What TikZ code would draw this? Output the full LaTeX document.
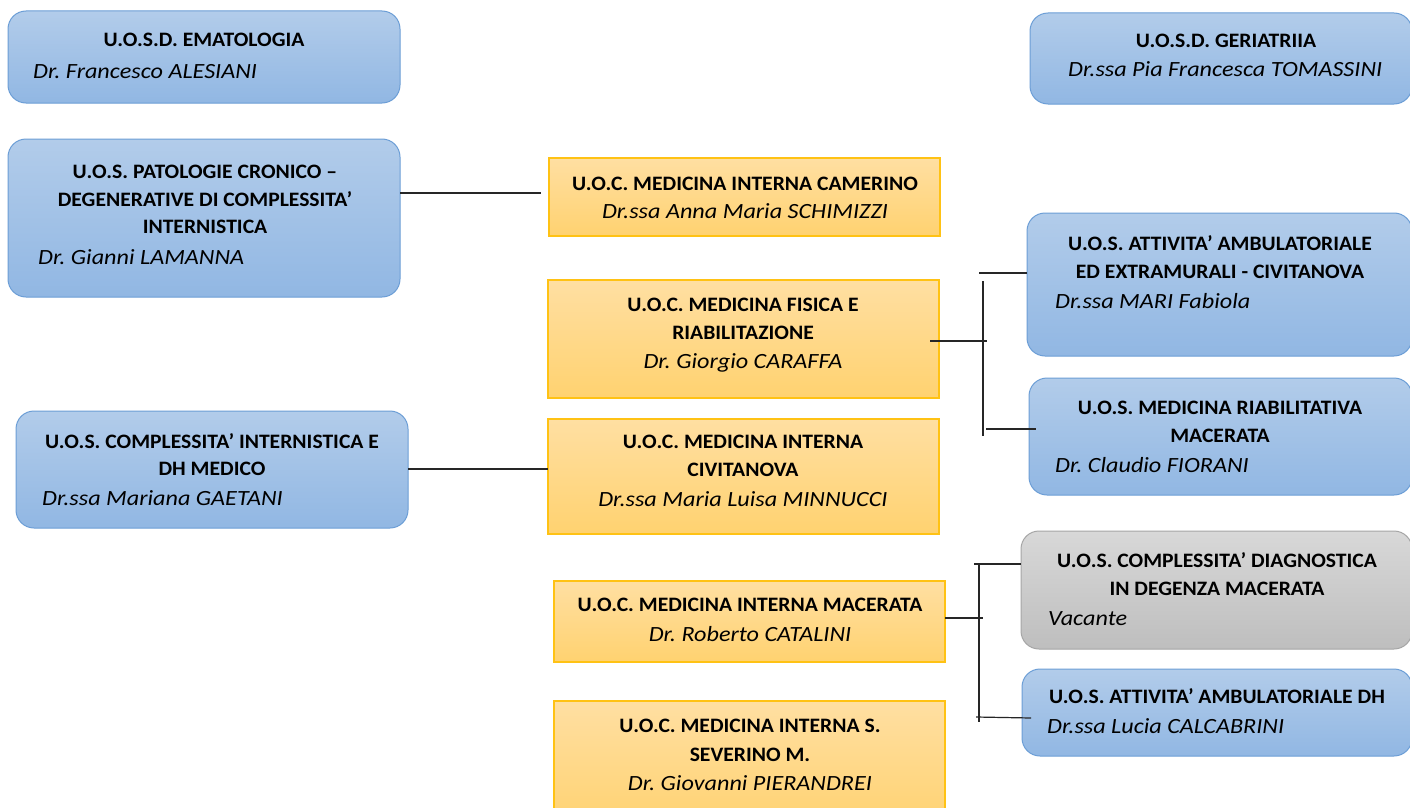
\documentclass[tikz,border=0pt]{standalone}
\usepackage{fontspec}
\setmainfont{Carlito}
\newfontfamily\tfam[FakeStretch=1.055]{Carlito}
\newfontfamily\nfam[FakeStretch=1.115]{Carlito}
\frenchspacing
\definecolor{bluetop}{RGB}{178,204,234}
\definecolor{bluebot}{RGB}{145,183,227}
\definecolor{blueline}{RGB}{108,158,214}
\definecolor{yeltop}{RGB}{255,223,162}
\definecolor{yelbot}{RGB}{255,210,112}
\definecolor{yelline}{RGB}{255,194,20}
\definecolor{graytop}{RGB}{216,216,216}
\definecolor{graybot}{RGB}{190,190,190}
\definecolor{grayline}{RGB}{166,166,166}
\tikzset{
  bluebox/.style={draw=blueline, line width=1pt, rounded corners=18pt, top color=bluetop, bottom color=bluebot, inner sep=0pt, outer sep=0pt},
  yelbox/.style={draw=yelline, line width=1.2pt, top color=yeltop, bottom color=yelbot, inner sep=0pt, outer sep=0pt},
  graybox/.style={draw=grayline, line width=1pt, rounded corners=18pt, top color=graytop, bottom color=graybot, inner sep=0pt, outer sep=0pt},
  tt/.style={font=\tfam\bfseries\fontsize{20.5}{24}\selectfont, inner sep=0pt, anchor=base},
  nm/.style={font=\nfam\itshape\fontsize{21.7}{24}\selectfont, inner sep=0pt, anchor=base},
  nml/.style={nm, anchor=base west},
  conn/.style={draw=black!85, line width=1.2pt}
}
\begin{document}
\begin{tikzpicture}[x=1pt,y=-1pt]
\useasboundingbox (0,0) rectangle (1410,808);
\clip (0,0) rectangle (1410,808);
\fill[white] (0,0) rectangle (1410,808);

% ---- boxes ----
\node[bluebox, minimum width=392pt, minimum height=92pt] (ema) at (204,57) {};
\node[bluebox, minimum width=382pt, minimum height=91pt] (ger) at (1221,58.5) {};
\node[bluebox, minimum width=392pt, minimum height=158pt] (pat) at (204,218) {};
\node[yelbox, minimum width=391pt, minimum height=78pt] (cam) at (744.5,197) {};
\node[yelbox, minimum width=391pt, minimum height=118pt] (fis) at (743.5,339) {};
\node[yelbox, minimum width=391pt, minimum height=115pt] (civ) at (743.5,476.5) {};
\node[yelbox, minimum width=391pt, minimum height=81pt] (mac) at (749.5,621.5) {};
\node[yelbox, minimum width=391pt, minimum height=129pt] (sev) at (749.5,765.5) {};
\node[bluebox, minimum width=392pt, minimum height=117pt] (dhm) at (212,469.5) {};
\node[bluebox, minimum width=385pt, minimum height=143pt] (amb) at (1219.5,284.5) {};
\node[bluebox, minimum width=383pt, minimum height=117pt] (ria) at (1220.5,436.5) {};
\node[graybox, minimum width=391pt, minimum height=118pt] (dia) at (1216.5,590) {};
\node[bluebox, minimum width=390pt, minimum height=87pt] (adh) at (1217,712.5) {};

% ---- texts ----
\node[tt] (ema-t) at (204,47) {U.O.S.D. EMATOLOGIA};
\node[nml] (ema-n) at (33,78) {Dr. Francesco ALESIANI};

\node[tt] (ger-t) at (1226,48) {U.O.S.D. GERIATRIIA};
\node[nml] (ger-n) at (1068,77) {Dr.ssa Pia Francesca TOMASSINI};

\node[tt] (pat-t1) at (205,178) {U.O.S. PATOLOGIE CRONICO –};
\node[tt] (pat-t2) at (205,206) {DEGENERATIVE DI COMPLESSITA’};
\node[tt] (pat-t3) at (205,233) {INTERNISTICA};
\node[nml] (pat-n) at (38,264) {Dr. Gianni LAMANNA};

\node[tt] (cam-t) at (745,190) {U.O.C. MEDICINA INTERNA CAMERINO};
\node[nm] (cam-n) at (745,218) {Dr.ssa Anna Maria SCHIMIZZI};

\node[tt] (fis-t1) at (743,311) {U.O.C. MEDICINA FISICA E};
\node[tt] (fis-t2) at (743,339) {RIABILITAZIONE};
\node[nm] (fis-n) at (743,368) {Dr. Giorgio CARAFFA};

\node[tt] (civ-t1) at (743,448) {U.O.C. MEDICINA INTERNA};
\node[tt] (civ-t2) at (743,476) {CIVITANOVA};
\node[nm] (civ-n) at (743,506) {Dr.ssa Maria Luisa MINNUCCI};

\node[tt] (mac-t) at (750,611) {U.O.C. MEDICINA INTERNA MACERATA};
\node[nm] (mac-n) at (750,641) {Dr. Roberto CATALINI};

\node[tt] (sev-t1) at (750,732) {U.O.C. MEDICINA INTERNA S.};
\node[tt] (sev-t2) at (750,761) {SEVERINO M.};
\node[nm] (sev-n) at (750,790) {Dr. Giovanni PIERANDREI};

\node[tt] (dhm-t1) at (212,448) {U.O.S. COMPLESSITA’ INTERNISTICA E};
\node[tt] (dhm-t2) at (212,475) {DH MEDICO};
\node[nml] (dhm-n) at (42,505) {Dr.ssa Mariana GAETANI};

\node[tt] (amb-t1) at (1220,250) {U.O.S. ATTIVITA’ AMBULATORIALE};
\node[tt] (amb-t2) at (1220,278) {ED EXTRAMURALI - CIVITANOVA};
\node[nml] (amb-n) at (1055,308) {Dr.ssa MARI Fabiola};

\node[tt] (ria-t1) at (1220,414) {U.O.S. MEDICINA RIABILITATIVA};
\node[tt] (ria-t2) at (1220,442) {MACERATA};
\node[nml] (ria-n) at (1055,472) {Dr. Claudio FIORANI};

\node[tt] (dia-t1) at (1217,567) {U.O.S. COMPLESSITA’ DIAGNOSTICA};
\node[tt] (dia-t2) at (1217,595) {IN DEGENZA MACERATA};
\node[nml] (dia-n) at (1048,625) {Vacante};

\node[tt] (adh-t) at (1217,703) {U.O.S. ATTIVITA’ AMBULATORIALE DH};
\node[nml] (adh-n) at (1047,733) {Dr.ssa Lucia CALCABRINI};

% ---- connectors ----
\coordinate (c1) at (541,193);
\draw[conn] (pat.east |- c1) -- (c1);

\coordinate (c2) at (548,469);
\draw[conn] (dhm.east |- c2) -- (c2);

% bracket for FISICA
\coordinate (f1) at (987,341);
\coordinate (fvt) at (983,281);
\coordinate (fvb) at (983,436);
\coordinate (fa) at (979,273);
\coordinate (fb) at (986,429);
\coordinate (fbe) at (1036,429);
\draw[conn] (fis.east |- f1) ++(-9,0) -- (f1);
\draw[conn] (fvt) -- (fvb);
\draw[conn] (fa) -- (amb.west |- fa);
\draw[conn] (fb) -- (fbe);

% bracket for MACERATA
\coordinate (m1) at (983,618);
\coordinate (mvt) at (979,563);
\coordinate (mvb) at (979,722);
\coordinate (ma) at (974,564);
\coordinate (mb) at (976,717);
\coordinate (mbe) at (1031,718);
\draw[conn] (mac.east |- m1) -- (m1);
\draw[conn] (mvt) -- (mvb);
\draw[conn] (ma) -- (dia.west |- ma);
\draw[conn] (mb) -- (mbe);
\end{tikzpicture}
\end{document}
